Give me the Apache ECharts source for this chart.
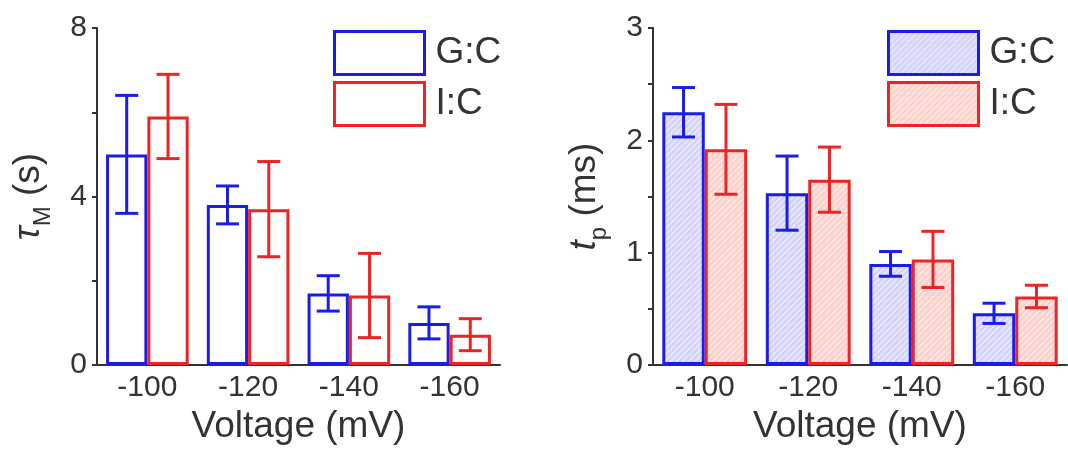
<!DOCTYPE html>
<html><head><meta charset="utf-8">
<script src="https://cdn.jsdelivr.net/npm/echarts@6/dist/echarts.min.js"></script>
<style>html,body{margin:0;padding:0;background:#fff}#c{width:1068px;height:450px}</style>
</head><body><div id="c"></div>
<script>
// ---- data ----
const categories = ['-100', '-120', '-140', '-160'];
const seriesNames = ['G:C', 'I:C'];
const tauGC = [5.0, 3.8, 1.7, 1.0];
const tauGCErr = [1.4, 0.45, 0.42, 0.38];
const tauIC = [5.9, 3.7, 1.65, 0.72];
const tauICErr = [1.0, 1.13, 1.0, 0.38];
const tpGC = [2.25, 1.53, 0.9, 0.46];
const tpGCErr = [0.22, 0.33, 0.11, 0.09];
const tpIC = [1.92, 1.65, 0.94, 0.61];
const tpICErr = [0.4, 0.29, 0.25, 0.1];
const tauTicks = [0, 4, 8];
const tpTicks = [0, 1, 2, 3];

// ---- styles ----
const FONT = "'Liberation Sans', Arial, sans-serif";
const BLUE = '#1c1ce8';
const RED = '#ee2424';
const AX = '#333333';
const GAP = 0.18;

function hatch(base, line) {
  const c = document.createElement('canvas');
  c.width = 6; c.height = 6;
  const g = c.getContext('2d');
  g.fillStyle = base; g.fillRect(0, 0, 6, 6);
  g.strokeStyle = line; g.lineWidth = 1.4;
  g.beginPath();
  g.moveTo(0, 6); g.lineTo(6, 0);
  g.moveTo(-3, 3); g.lineTo(3, -3);
  g.moveTo(3, 9); g.lineTo(9, 3);
  g.stroke();
  return { image: c, repeat: 'repeat' };
}
const blueHatch = hatch('#d4d4f8', '#ececfd');
const redHatch = hatch('#fad2cc', '#fdeae6');

function barSeries(name, vals, idx, fill, border) {
  return {
    type: 'bar', name: name, xAxisIndex: idx, yAxisIndex: idx, data: vals,
    barGap: '0%', barCategoryGap: (GAP * 100) + '%',
    itemStyle: { color: fill, borderColor: border, borderWidth: 3 },
    silent: true
  };
}
function errSeries(name, means, errs, idx, pos, color) {
  return {
    type: 'custom', name: name, xAxisIndex: idx, yAxisIndex: idx, z: 10, silent: true,
    data: means.map((m, i) => [i, m, errs[i]]),
    encode: { x: 0, y: 1 },
    renderItem: function (params, api) {
      const i = api.value(0), m = api.value(1), e = api.value(2);
      const band = api.size([1, 0])[0];
      const bw = band * (1 - GAP) / 2;
      const c = api.coord([i, m]);
      const x = c[0] + (pos === 0 ? -bw / 2 : bw / 2);
      const yt = api.coord([i, m + e])[1], yb = api.coord([i, m - e])[1];
      const cap = 11.5;
      const st = { stroke: color, lineWidth: 3 };
      return { type: 'group', children: [
        { type: 'line', shape: { x1: x, y1: yt, x2: x, y2: yb }, style: st },
        { type: 'line', shape: { x1: x - cap, y1: yt, x2: x + cap, y2: yt }, style: st },
        { type: 'line', shape: { x1: x - cap, y1: yb, x2: x + cap, y2: yb }, style: st }
      ] };
    }
  };
}
function xAxis(idx) {
  return {
    type: 'category', gridIndex: idx, data: categories,
    axisLine: { lineStyle: { color: AX, width: 2 } },
    axisTick: { alignWithLabel: true, length: 5, lineStyle: { color: AX, width: 2 } },
    axisLabel: { fontSize: 30, color: AX, margin: 8, fontFamily: FONT },
    name: 'Voltage (mV)', nameLocation: 'middle', nameGap: 42,
    nameTextStyle: { fontSize: 37, color: AX, fontFamily: FONT }
  };
}
function yAxis(idx, ticks, name, rich) {
  return {
    type: 'value', gridIndex: idx, min: ticks[0], max: ticks[ticks.length - 1],
    interval: ticks[1] - ticks[0],
    splitLine: { show: false },
    axisLine: { show: true, lineStyle: { color: AX, width: 2 } },
    axisTick: { show: true, length: 5, lineStyle: { color: AX, width: 2 } },
    minorTick: { show: true, splitNumber: 2, length: 5, lineStyle: { color: AX, width: 2 } },
    axisLabel: { fontSize: 30, color: AX, margin: 10, fontFamily: FONT },
    name: name, nameLocation: 'middle', nameRotate: 90, nameGap: 42,
    nameTextStyle: { color: AX, fontFamily: FONT, rich: rich }
  };
}
const richBase = {
  it: { fontStyle: 'italic', fontSize: 37, lineHeight: 52, color: AX, fontFamily: FONT },
  sub: { fontSize: 24, lineHeight: 24, verticalAlign: 'bottom', color: AX, fontFamily: FONT },
  n: { fontSize: 37, lineHeight: 52, color: AX, fontFamily: FONT }
};
function legend(left, blueFill, redFill) {
  return {
    left: left, top: 30, orient: 'vertical', itemWidth: 90, itemHeight: 43, itemGap: 5,
    padding: 0, selectedMode: false,
    textStyle: { fontSize: 37, color: AX, fontFamily: FONT, padding: [0, 0, 0, 6] },
    data: [
      { name: seriesNames[0], icon: 'rect', itemStyle: { color: blueFill, borderColor: BLUE, borderWidth: 3 } },
      { name: seriesNames[1], icon: 'rect', itemStyle: { color: redFill, borderColor: RED, borderWidth: 3 } }
    ]
  };
}

const chart = echarts.init(document.getElementById('c'), null, { renderer: 'canvas' });
chart.setOption({
  animation: false,
  backgroundColor: '#ffffff',
  grid: [
    { left: 97, top: 28, width: 403, height: 337 },
    { left: 653, top: 28, width: 414, height: 337 }
  ],
  legend: [legend(333, '#ffffff', '#ffffff'), legend(887, blueHatch, redHatch)],
  xAxis: [xAxis(0), xAxis(1)],
  yAxis: [
    yAxis(0, tauTicks, '{it|τ}{sub|M}{n| (s)}', richBase),
    yAxis(1, tpTicks, '{it|t}{sub|p}{n| (ms)}', richBase)
  ],
  series: [
    barSeries(seriesNames[0], tauGC, 0, '#ffffff', BLUE),
    barSeries(seriesNames[1], tauIC, 0, '#ffffff', RED),
    barSeries(seriesNames[0], tpGC, 1, blueHatch, BLUE),
    barSeries(seriesNames[1], tpIC, 1, redHatch, RED),
    errSeries(seriesNames[0], tauGC, tauGCErr, 0, 0, BLUE),
    errSeries(seriesNames[1], tauIC, tauICErr, 0, 1, RED),
    errSeries(seriesNames[0], tpGC, tpGCErr, 1, 0, BLUE),
    errSeries(seriesNames[1], tpIC, tpICErr, 1, 1, RED)
  ]
});
</script>
</body></html>
